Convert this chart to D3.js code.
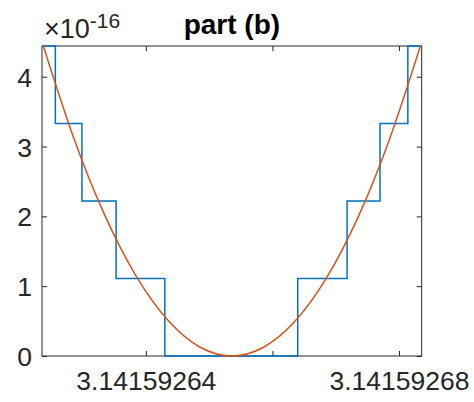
<!DOCTYPE html>
<html>
<head>
<meta charset="utf-8">
<script src="https://cdn.jsdelivr.net/npm/d3@7"></script>
<style>
  html, body { margin: 0; padding: 0; background: #fff; }
  svg { display: block; font-family: "Liberation Sans", Arial, Helvetica, sans-serif; }
</style>
</head>
<body>
<svg id="chart" width="474" height="402"></svg>
<script>
// ---- data (y values in units of 1e-16) ----
const xDomain = [3.14159262359, 3.14159268359];
const yDomain = [0, 4.44];
const xTicks = [3.14159264, 3.14159266, 3.14159268];
const xTickLabels = ["3.14159264", "", "3.14159268"];
const yTicks = [0, 1, 2, 3, 4];
const yTickLabels = ["0", "1", "2", "3", "4"];
const titleText = "part (b)";

// staircase (computed in floating point): step edges and levels
const stairX = [3.14159262359, 3.1415926257, 3.1415926299, 3.1415926353, 3.1415926430,
                3.1415926640, 3.1415926718, 3.1415926770, 3.1415926814, 3.14159268359];
const stairY = [4.44, 3.33, 2.22, 1.11, 0, 1.11, 2.22, 3.33, 4.44, 4.44];

// smooth curve (exact values)
const curveX = [3.14159262359, 3.14159262859, 3.14159263359, 3.14159263859, 3.14159264359,
                3.14159264859, 3.14159265359, 3.14159265859, 3.14159266359, 3.14159266859,
                3.14159267359, 3.14159267859, 3.14159268359];
const curveY = [4.5, 3.125, 2.0, 1.125, 0.5, 0.125, 0, 0.125, 0.5, 1.125, 2.0, 3.125, 4.5];

// ---- layout ----
const svg = d3.select("#chart");
const L = 42, T = 46, R = 421.7, B = 356;
const axisColor = "#262626";

const x = d3.scaleLinear().domain(xDomain).range([L, R]);
const y = d3.scaleLinear().domain(yDomain).range([B, T]);

svg.append("defs").append("clipPath").attr("id", "clip")
  .append("rect").attr("x", L - 1).attr("y", T - 1).attr("width", R - L + 2).attr("height", B - T + 2);

// axes (ticks inward)
const tickLen = 5;
const axBottom = d3.axisBottom(x).tickValues(xTicks).tickSize(-tickLen).tickPadding(15)
  .tickFormat((d, i) => xTickLabels[i]);
const axTop = d3.axisTop(x).tickValues(xTicks).tickSize(-tickLen).tickFormat("");
const axLeft = d3.axisLeft(y).tickValues(yTicks).tickSize(-tickLen).tickPadding(10)
  .tickFormat((d, i) => yTickLabels[i]);
const axRight = d3.axisRight(y).tickValues(yTicks).tickSize(-tickLen).tickFormat("");

function styleAxis(g) {
  g.select(".domain").attr("stroke", axisColor).attr("stroke-width", 1);
  g.selectAll(".tick line").attr("stroke", axisColor).attr("stroke-width", 1);
  g.selectAll(".tick text").attr("fill", axisColor).style("font-size", "26.5px")
    .style("font-family", "'Liberation Sans', Arial, sans-serif");
}

svg.append("g").attr("transform", `translate(0,${B})`).call(axBottom).call(styleAxis)
  .call(g => g.select(".domain").attr("d", `M${L},0H${R}`));
svg.append("g").attr("transform", `translate(0,${T})`).call(axTop).call(styleAxis)
  .call(g => g.select(".domain").attr("d", `M${L},0H${R}`));
svg.append("g").attr("transform", `translate(${L},0)`).call(axLeft).call(styleAxis)
  .call(g => g.select(".domain").attr("d", `M0,${B}V${T}`))
  .call(g => g.selectAll(".tick text").attr("dy", "0.36em"));
svg.append("g").attr("transform", `translate(${R},0)`).call(axRight).call(styleAxis)
  .call(g => g.select(".domain").attr("d", `M0,${B}V${T}`));

// lines
const plot = svg.append("g").attr("clip-path", "url(#clip)");

const stairLine = d3.line().x(d => x(d[0])).y(d => y(d[1])).curve(d3.curveStepAfter);
plot.append("path")
  .datum(stairX.map((v, i) => [v, stairY[i]]))
  .attr("d", stairLine)
  .attr("fill", "none").attr("stroke", "#0072BD").attr("stroke-width", 1.5);

const smoothLine = d3.line().x(d => x(d[0])).y(d => y(d[1])).curve(d3.curveNatural);
plot.append("path")
  .datum(curveX.map((v, i) => [v, curveY[i]]))
  .attr("d", smoothLine)
  .attr("fill", "none").attr("stroke", "#D95319").attr("stroke-width", 1.5);

// exponent label
const expText = svg.append("text").attr("x", 44).attr("y", 38)
  .attr("fill", axisColor).style("font-size", "27px");
expText.append("tspan").text("\u00D710");
expText.append("tspan").attr("dy", -10).style("font-size", "21px").text("-16");

// title
svg.append("text").attr("x", (L + R) / 2).attr("y", 34)
  .attr("text-anchor", "middle").attr("fill", "#000")
  .style("font-size", "28px").style("font-weight", "bold")
  .text(titleText);
</script>
</body>
</html>
